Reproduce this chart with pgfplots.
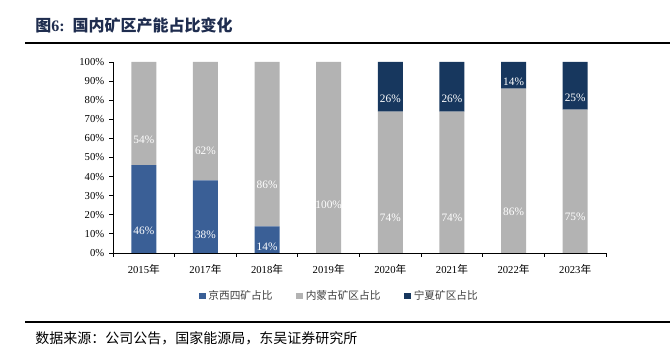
\documentclass[border=0pt]{standalone}
\usepackage{fontspec}
\setmainfont{Liberation Serif}
\newfontfamily\cjk{Noto Sans CJK SC}
\usepackage{pgfplots}
\pgfplotsset{compat=1.18}
\definecolor{cA}{HTML}{3A5F96}
\definecolor{cB}{HTML}{B3B3B3}
\definecolor{cC}{HTML}{17375E}
\definecolor{titc}{HTML}{1F2D4F}
\begin{document}
\begin{tikzpicture}[x=0.75pt,y=0.75pt]
\useasboundingbox (0,0) rectangle (670,356);
\draw[line width=1.3pt] (25,313) -- (670,313);
\node[anchor=west,text=titc,inner sep=0pt] at (35,331) {\fontsize{12}{14}\selectfont{\cjk\bfseries 图}{\bfseries 6:}\hspace{6pt}{\cjk\bfseries 国内矿区产能占比变化}};
\draw[line width=1.3pt] (25,34) -- (670,34);
\node[anchor=west,inner sep=0pt] at (35,18) {\cjk\fontsize{10.5}{12}\selectfont 数据来源：公司公告，国家能源局，东吴证券研究所};
\begin{axis}[
  at={(84.75pt,77.25pt)}, anchor=south west, scale only axis,
  width=369.75pt, height=143.25pt,
  ybar stacked, bar width=18.75pt,
  xmin=-0.5, xmax=7.5, ymin=0, ymax=100,
  axis x line*=bottom, axis y line*=left,
  axis line style={-, black, line width=0.6pt},
  xtick={0,...,7},
  xticklabels={2015{\cjk 年},2017{\cjk 年},2018{\cjk 年},2019{\cjk 年},2020{\cjk 年},2021{\cjk 年},2022{\cjk 年},2023{\cjk 年}},
  major x tick style={draw=none},
  minor xtick={-0.5,0.5,...,7.5},
  minor x tick style={black, line width=0.6pt},
  minor tick length=3pt,
  major tick length=3pt,
  tick align=outside,
  ytick={0,10,...,100},
  ytick style={black, line width=0.6pt},
  yticklabel={\pgfmathprintnumber[assume math mode=true]{\tick}\%},
  /pgf/number format/assume math mode=true,
  tick label style={font=\fontsize{8}{10}\selectfont},
  xticklabel style={yshift=-2pt},
  nodes near coords={\pgfmathfloatifflags{\pgfplotspointmeta}{0}{}{\pgfmathprintnumber[assume math mode=true]{\pgfplotspointmeta}\%}},
  visualization depends on=rawy \as \rawy,
  every node near coord/.append style={anchor=center, text=white, font=\fontsize{8.5}{10}\selectfont, shift={(axis direction cs:0,-\rawy/4)}},
  legend style={at={(0.46,-0.225)}, anchor=center, draw=none, legend columns=3, font=\cjk\fontsize{8}{9}\selectfont, text=black!75, /tikz/every even column/.append style={column sep=16pt}},
  legend image code/.code={\fill[#1] (0pt,-2.5pt) rectangle (5pt,2.5pt);},
]
\addplot[fill=cA, draw=none] coordinates {(0,46) (1,38) (2,14) (3,0) (4,0) (5,0) (6,0) (7,0)};
\addplot[fill=cB, draw=none] coordinates {(0,54) (1,62) (2,86) (3,100) (4,74) (5,74) (6,86) (7,75)};
\addplot[fill=cC, draw=none] coordinates {(0,0) (1,0) (2,0) (3,0) (4,26) (5,26) (6,14) (7,25)};
\legend{京西四矿占比,内蒙古矿区占比,宁夏矿区占比}
\end{axis}
\end{tikzpicture}
\end{document}
